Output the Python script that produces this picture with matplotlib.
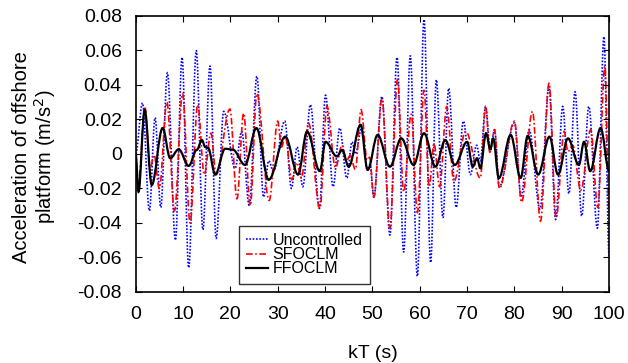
import matplotlib
matplotlib.use("Agg")
import matplotlib.pyplot as plt
from matplotlib.path import Path
from matplotlib.patches import PathPatch
from matplotlib.lines import Line2D

plt.rcParams['font.family'] = ['Liberation Sans', 'DejaVu Sans']

# extrema of each response (time in s, acceleration in m/s^2)
unc_t = [0, 1.45, 2.9, 4.1, 5.3, 6.7, 8.4, 9.8, 11.2, 12.8, 14.2, 15.7, 17.0, 18.6,
         21.0, 22.4, 24.0, 25.6, 27.0, 28.1, 29.1, 31.5, 32.9, 34.1, 35.3, 36.9, 38.8,
         40.1, 41.7, 43.1, 44.6, 45.7, 46.4, 47.8, 48.9, 49.5, 50.3, 52.0, 53.7, 55.2,
         56.6, 58.0, 59.5, 60.9, 62.3, 63.5, 64.9, 66.1, 67.7, 69.2, 70.7, 72.0, 72.8,
         73.9, 74.9, 75.8, 76.8, 80.0, 81.4, 83.1, 85.4, 87.3, 88.7, 90.2, 91.5, 92.8,
         94.2, 95.7, 97.5, 98.9, 100]
unc_v = [0.0, 0.0295, -0.033, 0.021, -0.031, 0.047, -0.050, 0.056, -0.066, 0.060, -0.044,
         0.051, -0.049, 0.0246, -0.0083, 0.013, -0.030, 0.045, -0.025, -0.004, -0.010,
         0.019, -0.020, 0.004, -0.019, 0.0285, -0.0316, 0.034, -0.019, 0.015, -0.014,
         0.007, 0.0, 0.016, -0.009, -0.006, -0.025, 0.0333, -0.047, 0.056, -0.057, 0.057,
         -0.071, 0.078, -0.063, 0.043, -0.037, 0.038, -0.031, 0.019, -0.012, 0.005,
         -0.004, 0.0275, 0.002, 0.014, -0.019, 0.018, -0.025, 0.014, -0.032, 0.039,
         -0.038, 0.0275, -0.023, 0.036, -0.036, 0.0275, -0.043, 0.068, -0.059]

sf_t = [0, 0.5, 2.0, 3.0, 3.9, 5.0, 6.6, 8.2, 9.9, 11.5, 13.1, 14.5, 15.9, 17.0, 19.9,
        21.4, 22.8, 24.2, 25.6, 28.2, 30.0, 30.8, 31.6, 33.0, 34.0, 35.0, 36.5, 38.9,
        40.4, 42.2, 43.6, 44.5, 45.3, 46.4, 47.6, 48.9, 49.4, 50.3, 52.0, 53.7, 55.3,
        56.6, 58.2, 59.5, 60.9, 62.0, 63.0, 64.2, 65.7, 67.2, 69.7, 72.8, 73.9, 74.8,
        75.8, 76.8, 80.0, 81.5, 83.8, 85.5, 87.3, 88.8, 90.5, 91.3, 92.3, 94.0, 96.1,
        97.6, 99.1, 100]
sf_v = [0.0, -0.018, 0.0265, -0.009, -0.0006, -0.020, 0.030, -0.033, 0.035, -0.040,
        0.0285, -0.012, 0.012, -0.012, 0.026, -0.026, 0.0236, -0.030, 0.035, -0.027,
        0.019, 0.004, 0.010, -0.015, -0.005, -0.014, 0.018, -0.0316, 0.0275, -0.008,
        0.005, -0.004, -0.001, -0.009, 0.0256, -0.0035, -0.002, -0.025, 0.032, -0.043,
        0.043, -0.022, 0.023, -0.034, 0.037, -0.019, 0.006, -0.019, 0.0275, -0.016,
        0.013, -0.014, 0.0275, 0.001, 0.014, -0.020, 0.019, -0.028, 0.0246, -0.039,
        0.041, -0.037, 0.013, 0.0014, 0.005, -0.021, 0.014, -0.031, 0.051, -0.034]

ff_t = [0, 0.6, 1.9, 3.4, 5.7, 7.3, 9.1, 11.2, 12.9, 14.0, 14.7, 15.3, 16.8, 18.9, 20.5,
        23.1, 25.5, 28.1, 31.6, 34.3, 36.2, 38.9, 40.1, 42.5, 43.6, 45.0, 47.5, 49.0,
        51.1, 53.7, 56.1, 58.7, 60.9, 63.3, 65.4, 67.4, 70.0, 71.2, 72.1, 72.8, 74.0,
        74.9, 75.5, 76.7, 79.2, 81.3, 82.8, 85.0, 87.4, 89.2, 91.3, 93.6, 94.7, 96.0,
        98.2, 100]
ff_v = [0.0, -0.022, 0.0256, -0.018, 0.015, -0.0025, 0.0027, -0.007, 0.0023, 0.008,
        0.004, 0.0035, -0.012, 0.003, 0.0025, -0.0064, 0.015, -0.015, 0.010, -0.012,
        0.013, -0.010, 0.007, -0.0015, 0.0023, -0.0074, 0.0169, -0.0093, 0.011, -0.0074,
        0.009, -0.0064, 0.012, -0.0074, 0.008, -0.0064, 0.007, -0.0074, -0.0025,
        -0.0083, 0.012, 0.0027, 0.009, -0.0141, 0.011, -0.014, 0.0105, -0.012, 0.010,
        -0.012, 0.009, -0.0064, 0.007, -0.010, 0.015, -0.010]


def smooth_path(ts, vs):
    # cubic bezier between consecutive extrema, flat tangent at each extremum
    verts = [(ts[0], vs[0])]
    codes = [Path.MOVETO]
    for i in range(len(ts) - 1):
        d = ts[i + 1] - ts[i]
        verts += [(ts[i] + 0.36 * d, vs[i]), (ts[i + 1] - 0.36 * d, vs[i + 1]),
                  (ts[i + 1], vs[i + 1])]
        codes += [Path.CURVE4] * 3
    return Path(verts, codes)


fig = plt.figure(figsize=(6.28, 3.63), dpi=100)
ax = fig.add_axes([0.216, 0.196, 0.754, 0.760])

styles = [
    (unc_t, unc_v, dict(color='#0000ff', linestyle=(0, (1, 1)), linewidth=1.2), 'Uncontrolled'),
    (sf_t, sf_v, dict(color='#ff0000', linestyle=(0, (4, 1.5, 1, 1.5)), linewidth=1.2), 'SFOCLM'),
    (ff_t, ff_v, dict(color='black', linestyle='-', linewidth=1.6), 'FFOCLM'),
]
handles = []
for ts, vs, st, name in styles:
    ax.add_patch(PathPatch(smooth_path(ts, vs), fill=False, **st))
    handles.append(Line2D([], [], label=name, **st))

ax.set_xlim(0, 100)
ax.set_ylim(-0.08, 0.08)
ax.set_xticks(range(0, 101, 10))
ax.set_yticks([-0.08, -0.06, -0.04, -0.02, 0, 0.02, 0.04, 0.06, 0.08])
ax.set_yticklabels(['-0.08', '-0.06', '-0.04', '-0.02', '0', '0.02', '0.04', '0.06', '0.08'])
ax.tick_params(direction='in', top=True, right=True, labelsize=14, length=4, pad=10)
for s in ax.spines.values():
    s.set_linewidth(1.2)

ax.set_xlabel('kT (s)', fontsize=14, labelpad=16)
ax.set_ylabel('Acceleration of offshore\nplatform (m/s$^2$)', fontsize=14.5, linespacing=1.05)
ax.yaxis.set_label_coords(-0.165, 0.49)

leg = ax.legend(handles=handles, loc='lower left', bbox_to_anchor=(0.218, 0.03),
                fontsize=11.5, frameon=True, fancybox=False, handlelength=1.4,
                handletextpad=0.25, borderpad=0.45, labelspacing=-0.05, borderaxespad=0)
leg.get_frame().set_edgecolor('black')
leg.get_frame().set_linewidth(1.0)

fig.savefig('out.png', dpi=100)
